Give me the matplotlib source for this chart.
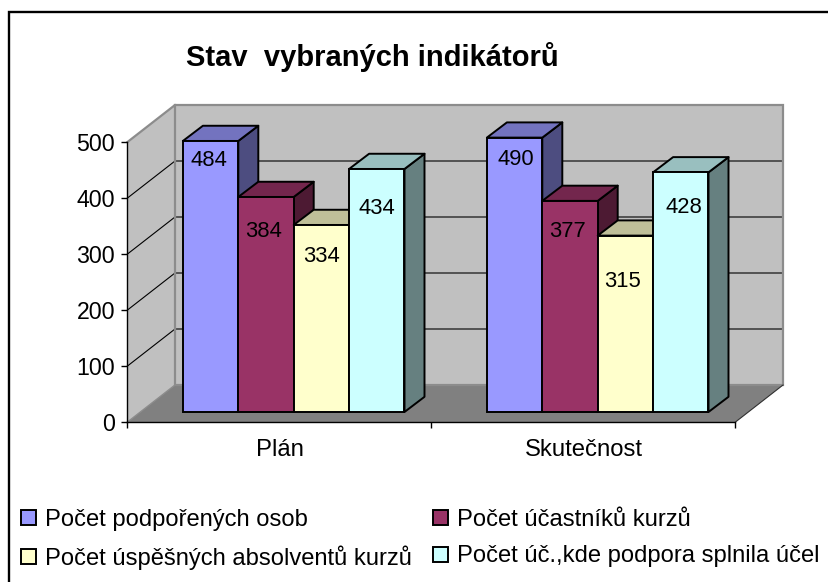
import matplotlib
matplotlib.use("Agg")
import matplotlib.pyplot as plt
from matplotlib.patches import Polygon, Patch
from matplotlib.lines import Line2D

plt.rcParams['font.family'] = ['Liberation Sans', 'DejaVu Sans']

title = "Stav  vybraných indikátorů"
categories = ["Plán", "Skutečnost"]
series_names = ["Počet podpořených osob", "Počet účastníků kurzů",
                "Počet úspěšných absolventů kurzů", "Počet úč.,kde podpora splnila účel"]
plan_values = [484, 384, 334, 434]
actual_values = [490, 377, 315, 428]
y_ticks = [0, 100, 200, 300, 400, 500]

front_colors = ["#9999FF", "#993366", "#FFFFCC", "#CCFFFF"]
top_colors = ["#7373BF", "#73264D", "#BFBF99", "#99BFBF"]
side_colors = ["#4D4D80", "#4D1A33", "#808066", "#668080"]
label_nudges = {  # pixel offset of each value label from its bar's top centre
    0: [(-2, -19.5), (-2.5, -35), (0.5, -32), (0.5, -40)],
    1: [(1, -22), (-2, -31), (-3, -46), (3, -35)],
}

W, H = 829, 582
fig = plt.figure(figsize=(W / 100, H / 100), dpi=100)
fig.patch.set_facecolor("white")

L, R, B0, T = 127.5, 735.5, 422.0, 142.0
ax = fig.add_axes([L / W, 1 - B0 / H, (R - L) / W, (B0 - T) / H])
ax.set_xlim(0, len(categories))
ax.set_ylim(0, 500)
ax.patch.set_visible(False)
for s in ("top", "right"):
    ax.spines[s].set_visible(False)
for s in ("left", "bottom"):
    ax.spines[s].set_linewidth(1.0)
    ax.spines[s].set_zorder(3)

px = len(categories) / (R - L)      # data x per pixel
py = 500 / (B0 - T)                 # data y per pixel
wall_dx, wall_dy = 47.5 * px, 37 * py
bar_dx, bar_dy = 20 * px, 15.2 * py
floor_y = 10 * py
bar_w = 55.4 * px
group_shift = 14.2 * px

# walls and floor
wall = "#C0C0C0"
edge = "#8C8C8C"
xmax = len(categories)
ax.add_patch(Polygon([(0, 0), (wall_dx, wall_dy), (wall_dx, 500 + wall_dy), (0, 500)],
                     fc=wall, ec="none", clip_on=False, zorder=0))
ax.add_patch(Polygon([(wall_dx, wall_dy), (xmax + wall_dx, wall_dy), (xmax + wall_dx, 500 + wall_dy),
                      (wall_dx, 500 + wall_dy)], fc=wall, ec="none", clip_on=False, zorder=0))
ax.add_patch(Polygon([(0, 0), (wall_dx, wall_dy), (xmax + wall_dx, wall_dy), (xmax, 0)],
                     fc="#808080", ec="none", clip_on=False, zorder=0.5))
for v in y_ticks[1:-1]:
    ax.plot([0, wall_dx, xmax + wall_dx], [v, v + wall_dy, v + wall_dy],
            color="black", lw=0.8, clip_on=False, zorder=1)
ax.plot([0, wall_dx, xmax + wall_dx, xmax + wall_dx, wall_dx, wall_dx],
        [500, 500 + wall_dy, 500 + wall_dy, wall_dy, wall_dy, 500 + wall_dy],
        color=edge, lw=1.6, clip_on=False, zorder=1.2, solid_joinstyle="miter")
ax.plot([0, wall_dx], [0, wall_dy], color=edge, lw=1.0, clip_on=False, zorder=1.2)
ax.plot([xmax, xmax + wall_dx], [0, wall_dy], color="#303030", lw=0.8, clip_on=False, zorder=1.2)

# bars
z = 2.0
for g, values in enumerate([plan_values, actual_values]):
    for i, v in enumerate(values):
        x0 = g + 0.5 + group_shift + (i - 2) * bar_w
        x1 = x0 + bar_w
        top = floor_y + v
        ax.add_patch(Polygon([(x1, floor_y), (x1 + bar_dx, floor_y + bar_dy), (x1 + bar_dx, top + bar_dy), (x1, top)],
                             fc=side_colors[i], ec="black", lw=1.4, clip_on=False, zorder=z, joinstyle="round"))
        ax.add_patch(Polygon([(x0, top), (x0 + bar_dx, top + bar_dy), (x1 + bar_dx, top + bar_dy), (x1, top)],
                             fc=top_colors[i], ec="black", lw=1.4, clip_on=False, zorder=z, joinstyle="round"))
        ax.bar(x0, v, width=bar_w, bottom=floor_y, align="edge", color=front_colors[i],
               edgecolor="black", linewidth=1.4, zorder=z + 0.01, clip_on=False)
        dx, dy = label_nudges[g][i]
        ax.annotate(str(v), xy=((x0 + x1) / 2, top), xytext=(dx * 0.72, dy * 0.72), textcoords="offset points",
                    ha="center", va="center", fontsize=15.8, color="black", zorder=10, annotation_clip=False)
        z += 0.1

# axes furniture
ax.set_yticks(y_ticks)
ax.set_xticks(range(len(categories) + 1))
ax.set_xticklabels([])
ax.set_xticks([k + 0.5 for k in range(len(categories))], minor=True)
ax.set_xticklabels(categories, minor=True, fontsize=17.2)
ax.tick_params(axis="x", which="major", length=4.5, width=1.0, pad=4)
ax.tick_params(axis="x", which="minor", length=0, pad=12.5)
ax.tick_params(axis="y", length=4, width=1.0, pad=5, labelsize=16.7)

# title
fig.text(372 / W, 1 - 57 / H, title, ha="center", va="center", fontsize=21, fontweight="bold")

# legend
handles = [Patch(fc=c, ec="black", lw=1.4) for c in front_colors]
fig.legend([handles[0], handles[2], handles[1], handles[3]],
           [series_names[0], series_names[2], series_names[1], series_names[3]],
           ncol=2, frameon=False, fontsize=17.1,
           loc="lower left", bbox_to_anchor=(21 / W, 1 - 570 / H),
           handlelength=0.63, handleheight=0.6, handletextpad=0.38,
           columnspacing=0.88, labelspacing=0.61, borderpad=0, borderaxespad=0)

# outer frame: only its top and left edges fall inside the picture
fig.add_artist(Line2D([9 / W, 9 / W, 1], [0, 1 - 12 / H, 1 - 12 / H], transform=fig.transFigure,
                      color="black", lw=1.7, solid_joinstyle="miter"))

fig.savefig("out.png", dpi=100)
